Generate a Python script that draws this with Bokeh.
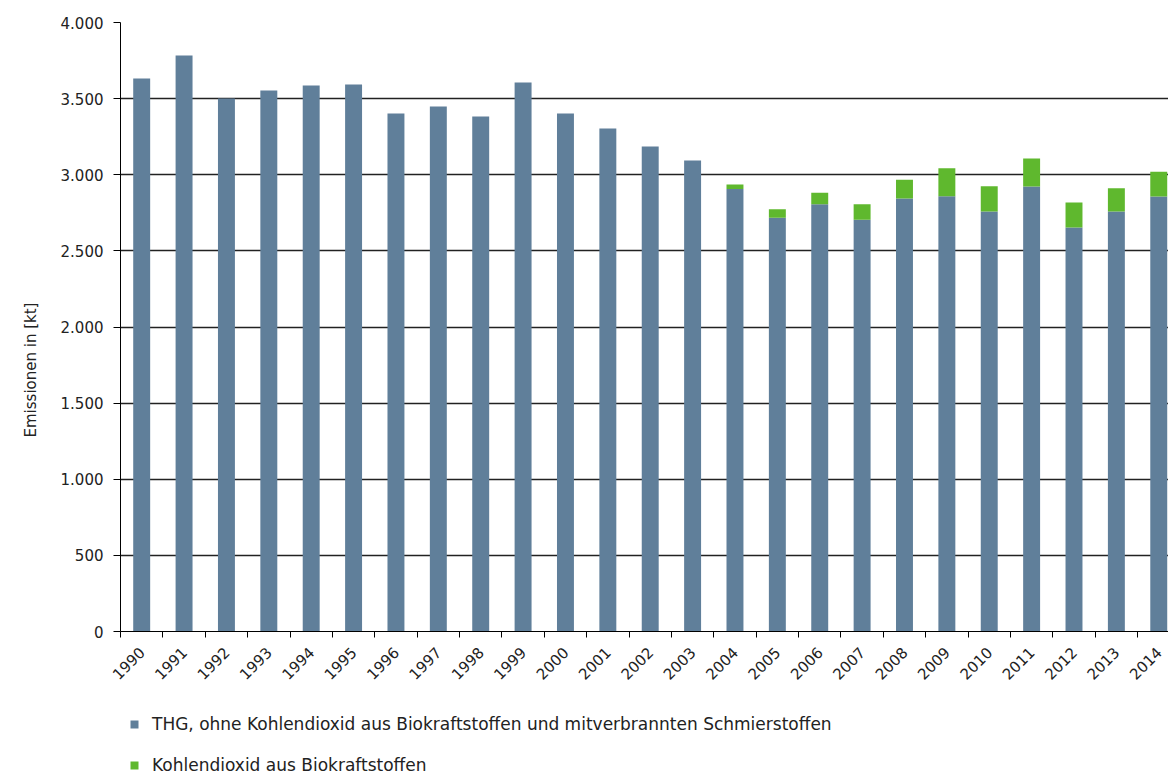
from bokeh.plotting import figure
from bokeh.models import ColumnDataSource, FixedTicker, Range1d, Legend, LegendItem, Title
from bokeh.layouts import column
from bokeh.embed import file_html
from bokeh.resources import INLINE
import math

years = ["1990", "1991", "1992", "1993", "1994", "1995", "1996", "1997", "1998", "1999",
         "2000", "2001", "2002", "2003", "2004", "2005", "2006", "2007", "2008", "2009",
         "2010", "2011", "2012", "2013", "2014"]
thg = [3632, 3783, 3501, 3553, 3586, 3593, 3402, 3448, 3383, 3606,
       3402, 3304, 3186, 3094, 2907, 2717, 2807, 2704, 2844, 2859,
       2759, 2923, 2654, 2759, 2857]
bio = [0, 0, 0, 0, 0, 0, 0, 0, 0, 0,
       0, 0, 0, 0, 29, 57, 74, 103, 123, 184,
       166, 184, 164, 153, 162]
y_ticks = [0, 500, 1000, 1500, 2000, 2500, 3000, 3500, 4000]
y_tick_labels = ["0", "500", "1.000", "1.500", "2.000", "2.500", "3.000", "3.500", "4.000"]
y_title = "Emissionen in [kt]"
series_names = ["THG, ohne Kohlendioxid aus Biokraftstoffen und mitverbrannten Schmierstoffen",
                "Kohlendioxid aus Biokraftstoffen"]
colors = ["#607f9a", "#5fb82e"]

xs = list(range(len(years)))
src = ColumnDataSource(dict(x=xs, thg=thg, bio=bio))

FONT = "DejaVu Sans"
TXT = "#222222"

p = figure(frame_width=1048, frame_height=609, output_backend="svg", toolbar_location=None,
           x_range=Range1d(-0.5, 24.23), y_range=Range1d(0, 4000),
           min_border_left=120, min_border_top=22, min_border_right=0, min_border_bottom=69)
p.outline_line_color = None
p.background_fill_color = "white"
p.border_fill_color = "white"

renderers = p.vbar_stack(["thg", "bio"], x="x", width=0.4, source=src,
                         color=colors, line_color=None)

# y axis
p.yaxis.ticker = FixedTicker(ticks=y_ticks)
p.yaxis.major_label_overrides = {t: l for t, l in zip(y_ticks, y_tick_labels)}
p.yaxis.major_label_text_font = FONT
p.yaxis.major_label_text_font_size = "15px"
p.yaxis.major_label_text_color = TXT
p.yaxis.major_tick_out = 7
p.yaxis.major_tick_in = 0
p.yaxis.minor_tick_line_color = None
p.yaxis.axis_line_color = "black"
p.yaxis.major_tick_line_color = "black"
p.yaxis.major_label_standoff = 10

ytitle = Title(text=y_title, align="left", offset=194, standoff=36,
               text_font=FONT, text_font_size="15px", text_font_style="normal",
               text_color=TXT)
p.add_layout(ytitle, "left")

# x axis
boundaries = [i - 0.5 for i in range(len(years) + 1)]
p.xaxis.ticker = FixedTicker(ticks=xs, minor_ticks=boundaries)
p.xaxis.major_label_overrides = {i: y for i, y in enumerate(years)}
p.xaxis.major_label_orientation = math.pi / 4
p.xaxis.major_label_text_font = FONT
p.xaxis.major_label_text_font_size = "15px"
p.xaxis.major_label_text_color = TXT
p.xaxis.major_tick_line_color = None
p.xaxis.minor_tick_out = 6
p.xaxis.minor_tick_in = 0
p.xaxis.minor_tick_line_color = "black"
p.xaxis.axis_line_color = "black"
p.xaxis.major_label_standoff = 12

p.xgrid.grid_line_color = None
p.ygrid.ticker = FixedTicker(ticks=y_ticks)
p.ygrid.grid_line_color = "#222222"
p.ygrid.grid_line_width = 1.3

# legend figure below (same series with zero-height dummy bars, so only the legend shows)
lg = figure(width=1168, height=73, output_backend="svg", toolbar_location=None,
            x_range=Range1d(0, 1), y_range=Range1d(0, 1),
            x_axis_location=None, y_axis_location=None,
            min_border=0, min_border_left=0, min_border_right=0,
            min_border_top=0, min_border_bottom=0)
lg.outline_line_color = None
lg.xgrid.grid_line_color = None
lg.ygrid.grid_line_color = None
lsrc = ColumnDataSource(dict(x=[5], thg=[0], bio=[0]))
lrs = lg.vbar_stack(["thg", "bio"], x="x", width=0.4, source=lsrc,
                    color=colors, line_color=None)

legend = Legend(items=[LegendItem(label=series_names[i], renderers=[lrs[i]]) for i in range(2)],
                location=(9, -2), orientation="vertical")
legend.border_line_color = None
legend.background_fill_alpha = 0
legend.label_text_font = FONT
legend.label_text_font_size = "17px"
legend.label_text_color = TXT
legend.glyph_width = 10
legend.glyph_height = 10
legend.label_height = 17
legend.spacing = 21
legend.margin = 0
legend.padding = 4
legend.label_standoff = 13
lg.add_layout(legend)

layout = column(p, lg, spacing=0)
open("out.html", "w").write(file_html(layout, INLINE))
